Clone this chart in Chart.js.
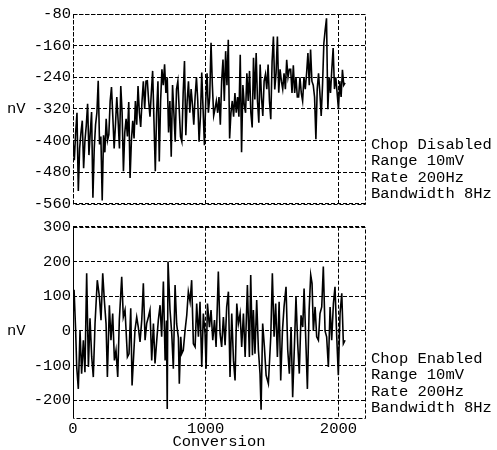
<!DOCTYPE html>
<html>
<head>
<meta charset="utf-8">
<script src="https://cdn.jsdelivr.net/npm/chart.js@4.4.1/dist/chart.umd.min.js"></script>
<style>
  html, body { margin: 0; padding: 0; background: #fff; }
  #wrap { position: relative; width: 497px; height: 450px; }
  .panel { position: absolute; left: 0; width: 497px; }
  #topPanel { top: 0; height: 215px; }
  #bottomPanel { top: 215px; height: 235px; }
</style>
</head>
<body>
<div id="wrap">
  <div class="panel" id="topPanel"><canvas id="topChart"></canvas></div>
  <div class="panel" id="bottomPanel"><canvas id="bottomChart"></canvas></div>
</div>
<script>
// ==========================
// Data
// ==========================
const xTicks = [0, 1000, 2000];
const xMax = 2200;

// Chop disabled: conversion number / nV
const topConv = [
  0, 10, 20, 30, 40, 50, 60, 70, 80, 90,
  100, 110, 120, 130, 140, 150, 160, 170, 180, 190,
  200, 210, 220, 230, 240, 250, 260, 270, 280, 290,
  300, 310, 320, 330, 340, 350, 360, 370, 380, 390,
  400, 410, 420, 430, 440, 450, 460, 470, 480, 490,
  500, 510, 520, 530, 540, 550, 560, 570, 580, 590,
  600, 610, 620, 630, 640, 650, 660, 670, 680, 690,
  700, 710, 720, 730, 740, 750, 760, 770, 780, 790,
  800, 810, 820, 830, 840, 850, 860, 870, 880, 890,
  900, 910, 920, 930, 940, 950, 960, 970, 980, 990,
  1000, 1010, 1020, 1030, 1040, 1050, 1060, 1070, 1080, 1090,
  1100, 1110, 1120, 1130, 1140, 1150, 1160, 1170, 1180, 1190,
  1200, 1210, 1220, 1230, 1240, 1250, 1260, 1270, 1280, 1290,
  1300, 1310, 1320, 1330, 1340, 1350, 1360, 1370, 1380, 1390,
  1400, 1410, 1420, 1430, 1440, 1450, 1460, 1470, 1480, 1490,
  1500, 1510, 1520, 1530, 1540, 1550, 1560, 1570, 1580, 1590,
  1600, 1610, 1620, 1630, 1640, 1650, 1660, 1670, 1680, 1690,
  1700, 1710, 1720, 1730, 1740, 1750, 1760, 1770, 1780, 1790,
  1800, 1810, 1820, 1830, 1840, 1850, 1860, 1870, 1880, 1890,
  1900, 1910, 1920, 1930, 1940, 1950, 1960, 1970, 1980, 1990,
  2000, 2010, 2020, 2030, 2040, 2050
];
const topNv = [
  -400, -450, -380, -330, -528, -420, -380, -350, -470, -400,
  -362, -307, -437, -380, -328, -545, -420, -360, -330, -249,
  -410, -390, -552, -387, -430, -345, -400, -385, -300, -265,
  -340, -420, -360, -290, -350, -420, -262, -330, -478, -380,
  -345, -390, -303, -495, -400, -350, -395, -300, -360, -262,
  -330, -366, -300, -250, -320, -250, -249, -300, -340, -280,
  -224, -350, -478, -330, -250, -453, -300, -220, -260, -207,
  -280, -240, -380, -300, -441, -260, -330, -403, -270, -250,
  -320, -390, -403, -280, -199, -387, -300, -250, -330, -270,
  -310, -360, -290, -240, -300, -403, -340, -228, -320, -412,
  -300, -230, -330, -290, -153, -260, -337, -320, -300, -330,
  -290, -360, -250, -195, -300, -174, -260, -145, -395, -330,
  -300, -340, -280, -330, -290, -340, -183, -430, -260, -310,
  -330, -230, -300, -224, -330, -367, -191, -296, -179, -300,
  -355, -208, -290, -338, -250, -233, -270, -208, -300, -346,
  -200, -137, -271, -230, -137, -279, -220, -250, -270, -230,
  -270, -196, -240, -220, -220, -280, -210, -280, -240, -290,
  -290, -240, -280, -300, -240, -270, -230, -179, -260, -170,
  -250, -260, -290, -397, -270, -230, -280, -338, -260, -154,
  -120, -91, -321, -240, -280, -220, -166, -270, -240, -280,
  -321, -250, -290, -221, -260, -254
];

// Chop enabled: conversion number / nV
const bottomConv = [
  0, 8, 20, 28, 40, 53, 65, 78, 90, 103, 116, 128, 141, 153, 166, 183, 199, 211, 224, 236,
  249, 259, 274, 286, 299, 312, 324, 337, 349, 367, 379, 392, 410, 422, 435, 445, 455, 467, 480, 492,
  505, 518, 530, 543, 555, 568, 580, 593, 606, 618, 631, 643, 656, 668, 681, 694, 704, 710, 716, 731,
  744, 756, 769, 781, 794, 801, 812, 819, 831, 844, 857, 869, 882, 894, 907, 920, 932, 945, 957, 970,
  982, 995, 1003, 1013, 1028, 1040, 1053, 1066, 1078, 1095, 1108, 1120, 1133, 1146, 1158, 1171, 1183, 1196, 1209, 1221,
  1234, 1246, 1259, 1271, 1284, 1297, 1314, 1329, 1339, 1352, 1359, 1371, 1384, 1397, 1409, 1417, 1429, 1442, 1455, 1472,
  1490, 1502, 1515, 1527, 1540, 1553, 1565, 1578, 1590, 1605, 1618, 1630, 1643, 1655, 1668, 1680, 1693, 1705, 1718, 1731,
  1741, 1754, 1766, 1779, 1791, 1801, 1811, 1824, 1836, 1849, 1861, 1874, 1886, 1899, 1911, 1924, 1937, 1949, 1962, 1974,
  1987, 1999, 2012, 2025, 2037, 2050
];
const bottomNv = [
  40, 118, 0, -104, -167, 0, -123, -27, -119, 166, -104, 36, -75, -133, 21, 146, 98, 31, 166, 89,
  21, -133, 74, -27, 50, -85, -56, -133, 31, 156, 40, 60, -75, -66, 65, -157, -85, 2, 40, 11,
  -32, 31, 137, -27, 21, 40, 60, -85, 21, -94, -27, 31, 74, -17, 142, -85, 30, -225, 200, 60,
  -8, -109, 132, 20, -20, -152, -17, -66, -56, 0, 45, 113, 84, 146, -37, -46, 79, -17, 84, -104,
  50, -8, -109, 79, 11, 60, -27, 31, -46, 171, -8, -46, 40, -41, 69, 113, -133, 50, -85, -143,
  79, 21, 50, -46, 50, -75, 132, -75, 161, -70, 60, -66, 89, -56, -123, -227, 21, -46, -128, -152,
  -17, 166, -17, 79, -75, 84, -143, 0, 69, 127, -56, -123, 11, -191, -46, 98, -37, -123, 45, 11,
  122, -27, -167, 60, 161, 137, 0, 69, -17, -27, 50, 69, 185, 0, -17, -104, 69, -27, 79, 127,
  -17, -128, 50, 108, -37, -27
];

const topNotes = ['Chop Disabled', 'Range 10mV', 'Rate 200Hz', 'Bandwidth 8Hz'];
const bottomNotes = ['Chop Enabled', 'Range 10mV', 'Rate 200Hz', 'Bandwidth 8Hz'];
const unitLabel = 'nV';
const xTitle = 'Conversion';

// ==========================
// Styling
// ==========================
const FONT_FAMILY = "'Liberation Mono', 'DejaVu Sans Mono', monospace";
const FONT_SIZE = 15.5;
const DASH = [4, 2];
Chart.defaults.font.family = FONT_FAMILY;
Chart.defaults.font.size = FONT_SIZE;
Chart.defaults.color = '#000';

function toPoints(xs, ys) {
  return xs.map((x, i) => ({ x: x, y: ys[i] }));
}

// dashed box, unit label and the note block at the right of each panel
const panelDecor = {
  id: 'panelDecor',
  beforeDatasetsDraw(chart) {
    const { ctx, chartArea: a } = chart;
    ctx.save();
    ctx.strokeStyle = '#000';
    ctx.lineWidth = 1;
    ctx.setLineDash(DASH);
    ctx.strokeRect(Math.round(a.left) + 0.5, Math.round(a.top) + 0.5,
      Math.round(a.right - a.left), Math.round(a.bottom - a.top));
    ctx.restore();
  },
  afterDraw(chart, args, opts) {
    const { ctx, chartArea: a, scales } = chart;
    ctx.save();
    ctx.fillStyle = '#000';
    ctx.font = FONT_SIZE + 'px ' + FONT_FAMILY;
    ctx.textBaseline = 'middle';
    ctx.textAlign = 'left';
    ctx.fillText(unitLabel, 7, scales.y.getPixelForValue(opts.unitAt));
    const offsets = [-59, -42.5, -26.3, -10];
    opts.notes.forEach((line, i) => {
      ctx.fillText(line, a.right + 6, a.bottom + offsets[i]);
    });
    ctx.restore();
  }
};

function makeChart(canvasId, xs, ys, cfg) {
  const ctx = document.getElementById(canvasId).getContext('2d');
  return new Chart(ctx, {
    type: 'line',
    data: {
      datasets: [{
        data: toPoints(xs, ys),
        borderColor: '#000',
        borderWidth: 1.6,
        pointRadius: 0,
        tension: 0,
        fill: false
      }]
    },
    options: {
      responsive: true,
      maintainAspectRatio: false,
      animation: false,
      layout: { padding: { left: 0, right: 132, top: cfg.padTop, bottom: 0 } },
      plugins: {
        legend: { display: false },
        tooltip: { enabled: false },
        panelDecor: { notes: cfg.notes, unitAt: cfg.unitAt }
      },
      scales: {
        x: {
          type: 'linear',
          min: 0,
          max: xMax,
          afterBuildTicks: s => { s.ticks = xTicks.map(v => ({ value: v })); },
          afterFit: s => { s.height = cfg.xHeight; },
          ticks: { display: cfg.showX, padding: 2, maxRotation: 0, callback: v => String(v) },
          grid: { color: '#000', lineWidth: 1, drawTicks: false },
          border: { display: false, dash: DASH },
          title: {
            display: cfg.showX,
            text: xTitle,
            padding: 0,
            font: { size: FONT_SIZE, lineHeight: 1 }
          }
        },
        y: {
          min: cfg.yMin,
          max: cfg.yMax,
          afterBuildTicks: s => { s.ticks = cfg.yTicks.map(v => ({ value: v })); },
          afterFit: s => { s.width = 73; },
          ticks: { padding: 2, callback: v => String(v) },
          grid: { color: '#000', lineWidth: 1, drawTicks: false },
          border: { display: false, dash: DASH }
        }
      }
    },
    plugins: [panelDecor]
  });
}

const topYTicks = [-560, -480, -400, -320, -240, -160, -80];
const bottomYTicks = [-200, -100, 0, 100, 200, 300];

makeChart('topChart', topConv, topNv, {
  padTop: 14, xHeight: 10, showX: false,
  yMin: -560, yMax: -80, yTicks: topYTicks,
  notes: topNotes, unitAt: -320
});

makeChart('bottomChart', bottomConv, bottomNv, {
  padTop: 11.7, xHeight: 32.3, showX: true,
  yMin: -250, yMax: 300, yTicks: bottomYTicks,
  notes: bottomNotes, unitAt: 0
});
</script>
</body>
</html>
